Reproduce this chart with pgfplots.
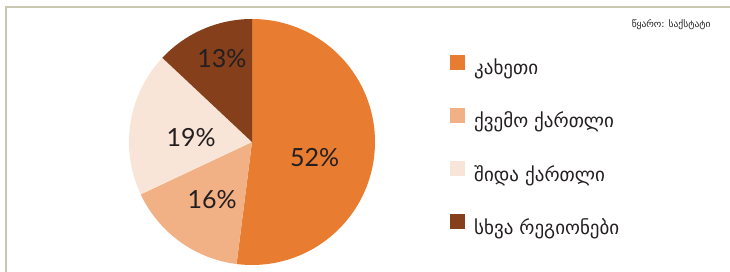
\documentclass[border=0pt]{standalone}
\usepackage{pgfplots}
\pgfplotsset{compat=1.18}
\usepackage{fontspec}
\setmainfont{DejaVu Sans}
\newfontfamily\pctfont{Lato}
\definecolor{cA}{HTML}{E87D31}
\definecolor{cB}{HTML}{F2B184}
\definecolor{cC}{HTML}{F9E4D8}
\definecolor{cD}{HTML}{853F1B}
\definecolor{frame}{HTML}{C8C8B2}
\definecolor{txt}{HTML}{231F20}
% shares (per cent)
\def\vA{52}\def\vB{16}\def\vC{19}\def\vD{13}
\pgfmathsetmacro\aA{90}
\pgfmathsetmacro\aB{\aA-\vA*3.6}
\pgfmathsetmacro\aC{\aB-\vB*3.6}
\pgfmathsetmacro\aD{\aC-\vC*3.6}
\pgfmathsetmacro\aE{\aD-\vD*3.6}
\begin{document}
\begin{tikzpicture}
\path[use as bounding box] (0pt,0pt) rectangle (730pt,272pt);
\draw[frame, line width=1.2pt] (730pt,265pt) -- (6pt,265pt) -- (6pt,0pt);
\begin{axis}[at={(252pt,130pt)}, anchor=center, scale only axis,
  width=246pt, height=246pt, xmin=-1, xmax=1, ymin=-1, ymax=1,
  hide axis, clip=false,
  legend image code/.code={\fill[#1] (0pt,-2pt) rectangle (15pt,13pt);},
  legend cell align=left,
  legend style={draw=none, fill=none, at={(1.2927,0.864)}, anchor=north west,
    font=\fontsize{19}{19}\selectfont, text=txt, row sep=29.5pt,
    /tikz/every odd column/.append style={column sep=7pt}},
]
\addplot[draw=none, fill=cA, domain=\aB:\aA, samples=150, variable=\t] ({cos(t)},{sin(t)}) -- (axis cs:0,0) -- cycle;
\addlegendentry{კახეთი}
\addplot[draw=none, fill=cB, domain=\aC:\aB, samples=60, variable=\t] ({cos(t)},{sin(t)}) -- (axis cs:0,0) -- cycle;
\addlegendentry{ქვემო ქართლი}
\addplot[draw=none, fill=cC, domain=\aD:\aC, samples=60, variable=\t] ({cos(t)},{sin(t)}) -- (axis cs:0,0) -- cycle;
\addlegendentry{შიდა ქართლი}
\addplot[draw=none, fill=cD, domain=\aE:\aD, samples=60, variable=\t] ({cos(t)},{sin(t)}) -- (axis cs:0,0) -- cycle;
\addlegendentry{სხვა რეგიონები}
\node[font=\pctfont\fontsize{25}{25}\selectfont, text=txt] at (axis cs:0.51,-0.13) {52\%};
\node[font=\pctfont\fontsize{25}{25}\selectfont, text=txt] at (axis cs:-0.325,-0.465) {16\%};
\node[font=\pctfont\fontsize{25}{25}\selectfont, text=txt] at (axis cs:-0.495,0.04) {19\%};
\node[font=\pctfont\fontsize{25}{25}\selectfont, text=txt] at (axis cs:-0.245,0.675) {13\%};
\end{axis}
\node[anchor=east, font=\fontsize{9.5}{9.5}\selectfont, text=txt] at (714pt,247pt) {წყარო: საქსტატი};
\end{tikzpicture}
\end{document}
